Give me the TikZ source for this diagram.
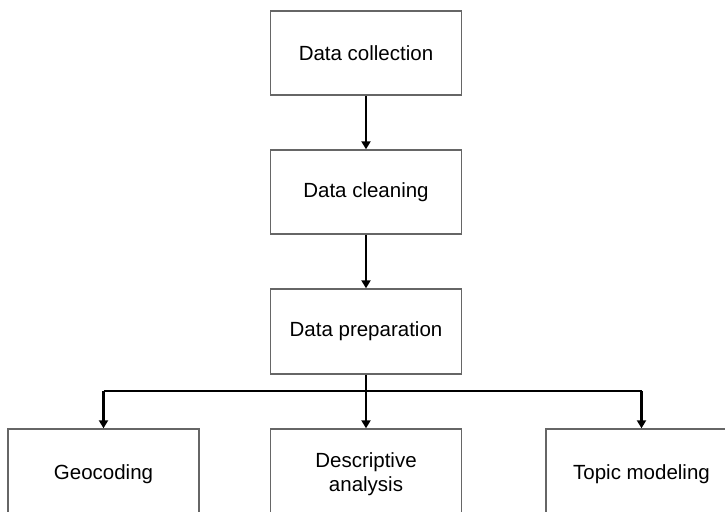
\documentclass[tikz,border=0pt]{standalone}
\usepackage{fontspec}
\setmainfont{Liberation Sans}
\usetikzlibrary{arrows.meta}
\begin{document}
\begin{tikzpicture}[x=1pt,y=-1pt,
  box/.style={draw=black!60, line width=1.4pt, minimum width=191pt, minimum height=84pt, inner sep=0pt, align=center, font=\fontsize{20.5}{24}\selectfont},
  lowbox/.style={box, minimum height=90pt},
  conn/.style={line width=2.6pt, draw=black},
  arr/.style={conn, -{Triangle[width=9pt,length=8pt]}}]
\useasboundingbox (0,0) rectangle (725,511);
\clip (0,0) rectangle (725,511);
\fill[white] (0,0) rectangle (725,511);
\node[box] (col) at (366,53) {Data collection};
\node[box] (cle) at (366,192) {Data cleaning};
\node[box, minimum height=85pt] (pre) at (366,331.5) {Data preparation};
\node[lowbox] (geo) at (103.5,474) {Geocoding};
\node[lowbox] (des) at (366,474) {Descriptive\\analysis};
\node[lowbox] (top) at (641.5,474) {Topic modeling};
\coordinate (j) at (366,391);
\draw[arr] (col) -- (cle);
\draw[arr] (cle) -- (pre);
\draw[arr] (pre) -- (des);
\draw[conn] (geo.north |- j) -- (top.north |- j);
\draw[arr] (geo.north |- j) -- (geo.north);
\draw[arr] (top.north |- j) -- (top.north);
\end{tikzpicture}
\end{document}
